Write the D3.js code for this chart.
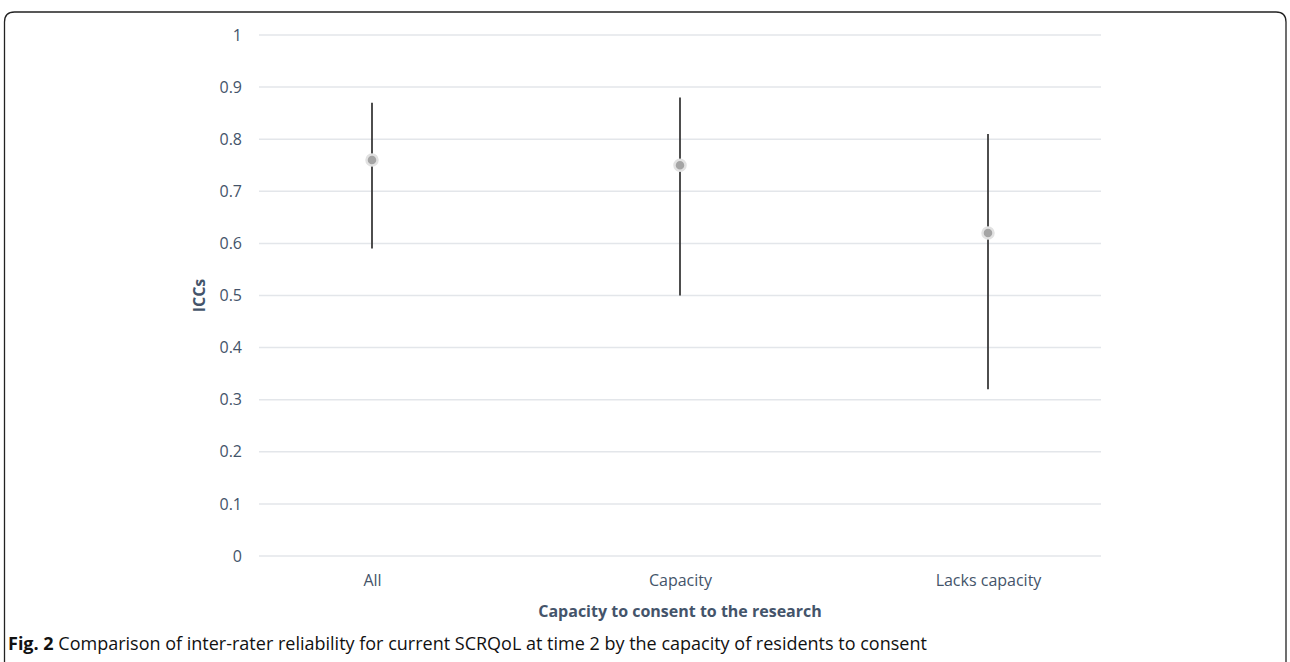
<!DOCTYPE html>
<html>
<head>
<meta charset="utf-8">
<script src="https://cdn.jsdelivr.net/npm/d3@7"></script>
<style>
  body { margin: 0; background: #fff; }
  svg text { font-family: "Open Sans", "Noto Sans", sans-serif; }
</style>
</head>
<body>
<div id="chart"></div>
<script>
// chart data
var categories = ["All", "Capacity", "Lacks capacity"];
var iccValues = [0.76, 0.75, 0.62];
var lowerCI = [0.59, 0.50, 0.32];
var upperCI = [0.87, 0.88, 0.81];
var yTicks = [0, 0.1, 0.2, 0.3, 0.4, 0.5, 0.6, 0.7, 0.8, 0.9, 1];

var svgWidth = 1290;
var svgHeight = 662;

var svg = d3.select("#chart")
  .append("svg")
  .attr("width", svgWidth)
  .attr("height", svgHeight);

// rounded frame around the figure (open at the bottom)
svg.append("path")
  .attr("d", "M4.5,662 L4.5,22 Q4.5,12 14.5,12 L1276,12 Q1286,12 1286,22 L1286,662")
  .attr("fill", "none")
  .attr("stroke", "#222")
  .attr("stroke-width", 1.3);

var gridLeft = 259, gridRight = 1101;

var xScale = d3.scalePoint()
  .domain(categories)
  .range([372, 988]);

var yScale = d3.scaleLinear()
  .domain([0, 1])
  .range([556, 35]);

// gridlines
svg.append("g")
  .selectAll("line")
  .data(yTicks)
  .enter()
  .append("line")
  .attr("x1", gridLeft)
  .attr("x2", gridRight)
  .attr("y1", d => yScale(d))
  .attr("y2", d => yScale(d))
  .attr("stroke", "#e3e6ea")
  .attr("stroke-width", 1.5);

// y axis labels
var leftAxis = d3.axisLeft(yScale)
  .tickValues(yTicks)
  .tickFormat(d => d3.format("")(d))
  .tickSize(0)
  .tickPadding(0);

var yAxisGroup = svg.append("g")
  .attr("transform", "translate(242,0)")
  .call(leftAxis);
yAxisGroup.select(".domain").remove();
yAxisGroup.selectAll("text")
  .attr("fill", "#44546a")
  .style("font-size", "16px");

// x axis labels
var bottomAxis = d3.axisBottom(xScale).tickSize(0).tickPadding(0);
var xAxisGroup = svg.append("g")
  .attr("transform", "translate(0,575)")
  .call(bottomAxis);
xAxisGroup.select(".domain").remove();
xAxisGroup.selectAll("text")
  .attr("fill", "#44546a")
  .style("font-size", "16px");

// whiskers
svg.append("g")
  .selectAll("line")
  .data(categories)
  .enter()
  .append("line")
  .attr("x1", d => xScale(d))
  .attr("x2", d => xScale(d))
  .attr("y1", (d, i) => yScale(upperCI[i]))
  .attr("y2", (d, i) => yScale(lowerCI[i]))
  .attr("stroke", "#3a3a3a")
  .attr("stroke-width", 1.8);

// point estimates
svg.append("g")
  .selectAll("circle")
  .data(categories)
  .enter()
  .append("circle")
  .attr("cx", d => xScale(d))
  .attr("cy", (d, i) => yScale(iccValues[i]))
  .attr("r", 5.5)
  .attr("fill", "#a5a5a5")
  .attr("stroke", "#e2e2e2")
  .attr("stroke-width", 2.5);

// axis titles
svg.append("text")
  .attr("transform", `translate(205, ${yScale(0.5)}) rotate(-90)`)
  .attr("text-anchor", "middle")
  .attr("fill", "#44546a")
  .style("font-size", "16px")
  .style("font-weight", "bold")
  .text("ICCs");

svg.append("text")
  .attr("x", 680)
  .attr("y", 617)
  .attr("text-anchor", "middle")
  .attr("fill", "#44546a")
  .style("font-size", "16px")
  .style("font-weight", "bold")
  .text("Capacity to consent to the research");

// caption
var caption = svg.append("text")
  .attr("x", 8)
  .attr("y", 650)
  .attr("fill", "#111")
  .style("font-size", "18px");
caption.append("tspan").style("font-weight", "bold").text("Fig. 2");
caption.append("tspan").text(" Comparison of inter-rater reliability for current SCRQoL at time 2 by the capacity of residents to consent");
</script>
</body>
</html>
